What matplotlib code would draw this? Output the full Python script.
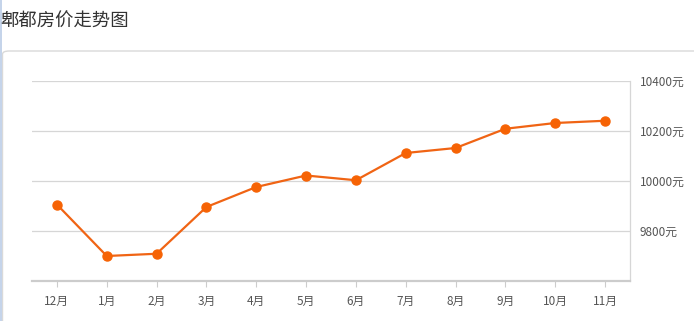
import matplotlib
matplotlib.use("Agg")
import matplotlib.pyplot as plt
from matplotlib.patches import FancyBboxPatch, Rectangle

plt.rcParams['font.family'] = ['Noto Sans CJK SC', 'DejaVu Sans']

# Data
months = ['12月', '1月', '2月', '3月', '4月', '5月', '6月', '7月', '8月', '9月', '10月', '11月']
prices = [9906, 9700, 9709, 9896, 9976, 10022, 10003, 10112, 10132, 10209, 10232, 10241]
y_ticks = [9800, 10000, 10200, 10400]
y_labels = [f'{v}元' for v in y_ticks]

W, H = 694, 321
fig = plt.figure(figsize=(W / 100, H / 100), dpi=100)

# panel frame and left blue strip
fig.patches.append(FancyBboxPatch((2.5 / W, -20 / H), 720 / W, (H - 51 + 20) / H,
                                  boxstyle="round,pad=0,rounding_size=0.01",
                                  transform=fig.transFigure, facecolor='white',
                                  edgecolor='#d9d9d9', linewidth=1.0, zorder=0))
fig.patches.append(Rectangle((0, 0), 1.5 / W, 1, transform=fig.transFigure,
                             facecolor='#c5d4ea', edgecolor='none', zorder=1))

fig.text(0 / W, 1 - 22 / H, '郫都房价走势图', fontsize=13.2, color='#333333',
         ha='left', va='center')

ax = fig.add_axes([32 / W, 40 / H, (630 - 32) / W, (281 - 81) / H])
ax.set_zorder(5)
ax.set_facecolor('none')
x = list(range(len(months)))
ax.plot(x, prices, color='#f06414', linewidth=1.6, marker='o', markersize=6.5,
        markerfacecolor='#f66305', markeredgecolor='#f66305', zorder=3,
        clip_on=False)

ax.set_xlim(-0.5, len(months) - 0.5)
ax.set_ylim(9600, 10400)
ax.set_xticks(x)
ax.set_xticklabels(months)
ax.set_yticks(y_ticks)
ax.set_yticklabels(y_labels)
ax.yaxis.tick_right()

for v in y_ticks:
    ax.axhline(v, color='#d6d6d6', linewidth=0.9, zorder=1)

for s in ['top', 'left']:
    ax.spines[s].set_visible(False)
ax.spines['right'].set_color('#d6d6d6')
ax.spines['right'].set_linewidth(0.9)
ax.spines['bottom'].set_color('#cccccc')
ax.spines['bottom'].set_linewidth(1.6)

ax.tick_params(axis='x', length=4, width=0.8, color='#cccccc', labelsize=8.5,
               labelcolor='#555555', pad=6)
ax.tick_params(axis='y', length=0, labelsize=8.5, labelcolor='#555555', pad=7)

fig.savefig('out.png', dpi=100)
